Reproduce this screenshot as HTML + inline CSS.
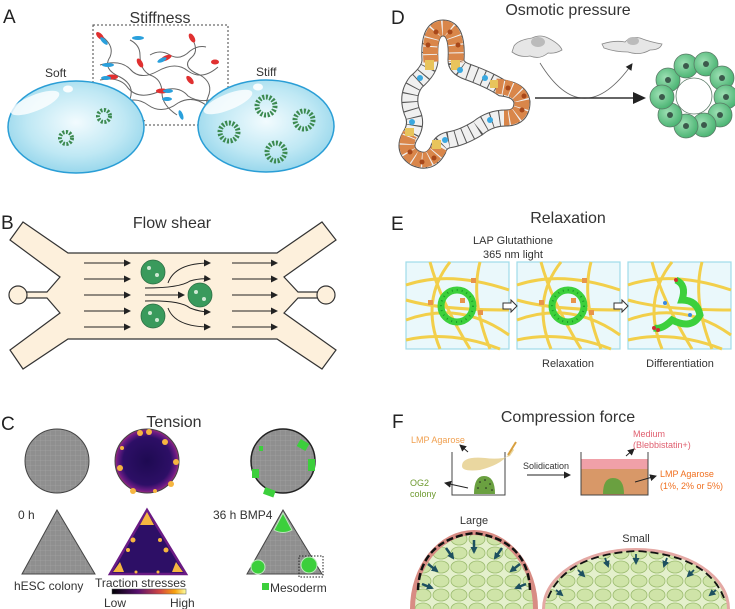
<!DOCTYPE html>
<html><head><meta charset="utf-8"><style>
html,body{margin:0;padding:0;background:#fff;width:735px;height:609px;overflow:hidden}
svg{display:block;font-family:"Liberation Sans",Arial,sans-serif}
</style></head><body>
<svg width="735" height="609" viewBox="0 0 735 609" xmlns="http://www.w3.org/2000/svg">
<defs>
<radialGradient id="gel" cx="0.5" cy="0.45" r="0.6">
<stop offset="0" stop-color="#f2fbfe"/><stop offset="0.6" stop-color="#bfe8f4"/><stop offset="1" stop-color="#8fd3ea"/></radialGradient>
<radialGradient id="heat" cx="0.5" cy="0.5" r="0.5">
<stop offset="0" stop-color="#1e0a52"/><stop offset="0.75" stop-color="#2d0f66"/><stop offset="0.92" stop-color="#6a1b84"/><stop offset="1" stop-color="#9a2b7a"/></radialGradient>
<radialGradient id="gc" cx="0.4" cy="0.4" r="0.7"><stop offset="0" stop-color="#9ee0b4"/><stop offset="1" stop-color="#3fae6a"/></radialGradient>
<linearGradient id="cbar" x1="0" x2="1"><stop offset="0" stop-color="#000004"/><stop offset="0.35" stop-color="#57106e"/><stop offset="0.65" stop-color="#d44842"/><stop offset="0.85" stop-color="#f8a20f"/><stop offset="1" stop-color="#fcffa4"/></linearGradient>
<pattern id="grid" width="5" height="5" patternUnits="userSpaceOnUse"><rect width="5" height="5" fill="#8f8f8f"/><path d="M0 0H5M0 0V5" stroke="#a9a9a9" stroke-width="0.6"/></pattern>
<pattern id="cells" width="18" height="14" patternUnits="userSpaceOnUse"><rect width="18" height="14" fill="#e4f0cc"/><ellipse cx="9" cy="7" rx="8" ry="6" fill="#cfe4a8" stroke="#9cbc70" stroke-width="0.8"/></pattern>
<marker id="ah" markerUnits="userSpaceOnUse" markerWidth="7" markerHeight="7" refX="6" refY="3.5" orient="auto"><path d="M0 0L7 3.5L0 7z" fill="#222"/></marker>
<marker id="ahb" markerUnits="userSpaceOnUse" markerWidth="7" markerHeight="7" refX="5" refY="3.5" orient="auto"><path d="M0 0L7 3.5L0 7z" fill="#1d5060"/></marker>
</defs>

<!-- Panel A -->
<text x="3" y="23" font-size="19" fill="#222">A</text>
<text x="160" y="23" font-size="16" fill="#333" text-anchor="middle">Stiffness</text>
<rect x="93" y="25" width="135" height="100" fill="none" stroke="#444" stroke-dasharray="2,2" stroke-width="1"/>
<g fill="none" stroke="#666" stroke-width="1">
<path d="M100 35 q15 10 10 22 q-8 12 10 20 q15 8 10 22 q-5 12 15 22"/>
<path d="M130 40 q10 5 10 15 q0 15 10 20 q12 4 12 18 q0 12 15 22"/>
<path d="M190 35 q10 15 2 22 q-12 10 8 18 q14 8 8 22 q-6 12 16 24"/>
<path d="M100 65 q20 -6 30 4 q10 12 28 2 q18 -10 30 0 q14 10 30 -4"/>
<path d="M100 80 q20 -4 28 8 q10 12 30 4 q20 -8 30 4 q12 8 30 2"/>
<path d="M120 105 q14 -10 28 0 q14 10 30 -2 q14 -8 28 2"/>
<path d="M150 55 q10 -6 20 0 q10 6 20 -4 q8 -6 16 -4"/>
</g>
<g>
<ellipse cx="100" cy="36" rx="5" ry="2.5" fill="#e03030" transform="rotate(45 100 36)"/><ellipse cx="104" cy="41" rx="5" ry="2" fill="#2aa0dc" transform="rotate(45 104 41)"/>
<ellipse cx="138" cy="38" rx="6" ry="2" fill="#2aa0dc"/>
<ellipse cx="192" cy="38" rx="5" ry="2.5" fill="#e03030" transform="rotate(60 192 38)"/>
<ellipse cx="108" cy="65" rx="6" ry="2" fill="#2aa0dc"/>
<ellipse cx="140" cy="63" rx="5" ry="2.5" fill="#e03030" transform="rotate(60 140 63)"/>
<ellipse cx="166" cy="58" rx="6" ry="2.5" fill="#e03030" transform="rotate(-25 166 58)"/><ellipse cx="162" cy="60" rx="5" ry="2" fill="#2aa0dc" transform="rotate(-25 162 60)"/>
<ellipse cx="112" cy="77" rx="6" ry="2.5" fill="#e03030"/><ellipse cx="106" cy="78" rx="5" ry="2" fill="#2aa0dc"/>
<ellipse cx="190" cy="80" rx="5" ry="2.5" fill="#e03030" transform="rotate(50 190 80)"/>
<ellipse cx="162" cy="91" rx="6" ry="2.5" fill="#e03030"/><ellipse cx="168" cy="91" rx="5" ry="2" fill="#2aa0dc"/>
<ellipse cx="167" cy="99" rx="5" ry="2" fill="#2aa0dc"/>
<ellipse cx="181" cy="115" rx="5" ry="2" fill="#2aa0dc" transform="rotate(70 181 115)"/>
<ellipse cx="215" cy="62" rx="4" ry="2.5" fill="#e03030"/>
</g>
<ellipse cx="76" cy="127" rx="68" ry="46" fill="url(#gel)" stroke="#2a9ed6" stroke-width="1.5"/>
<ellipse cx="35" cy="103" rx="26" ry="8" fill="#fff" opacity="0.8" transform="rotate(-22 35 103)"/>
<ellipse cx="68" cy="89" rx="5" ry="3.5" fill="#fff" opacity="0.9"/>
<ellipse cx="266" cy="126" rx="68" ry="46" fill="url(#gel)" stroke="#2a9ed6" stroke-width="1.5"/>
<ellipse cx="228" cy="102" rx="26" ry="8" fill="#fff" opacity="0.8" transform="rotate(-22 228 102)"/>
<ellipse cx="258" cy="87" rx="5" ry="3.5" fill="#fff" opacity="0.9"/>
<g fill="none" stroke="#3c8a50" stroke-dasharray="2,1.5">
<circle cx="104" cy="116" r="6" stroke-width="4"/><circle cx="66" cy="138" r="6" stroke-width="4"/>
<circle cx="266" cy="106" r="9" stroke-width="5"/><circle cx="304" cy="120" r="9" stroke-width="5"/>
<circle cx="229" cy="132" r="9" stroke-width="5"/><circle cx="276" cy="152" r="9" stroke-width="5"/>
</g>
<text x="45" y="77" font-size="12" fill="#333">Soft</text>
<text x="256" y="76" font-size="12" fill="#333">Stiff</text>

<!-- Panel B -->
<text x="1" y="229" font-size="19" fill="#222">B</text>
<text x="172" y="228" font-size="16" fill="#333" text-anchor="middle">Flow shear</text>
<path d="M23 222 L68 253 L277 253 L322 222 L336 240 L284 277 L298 292 L318 292 L318 298 L298 298 L284 313 L336 350 L322 369 L277 339 L68 339 L23 369 L10 350 L60 313 L47 298 L26 298 L26 292 L47 292 L60 277 L10 240 Z" fill="#fdf0dc" stroke="#333" stroke-width="1.2"/>
<circle cx="18" cy="295" r="9" fill="#fdf0dc" stroke="#333" stroke-width="1.2"/>
<circle cx="326" cy="295" r="9" fill="#fdf0dc" stroke="#333" stroke-width="1.2"/>
<g stroke="#222" stroke-width="1" fill="none" marker-end="url(#ah)">
<path d="M84 263H130"/><path d="M84 279H130"/><path d="M84 295H130"/><path d="M84 311H130"/><path d="M84 327H130"/>
<path d="M232 263H277"/><path d="M232 279H277"/><path d="M232 295H277"/><path d="M232 311H277"/><path d="M232 327H277"/>
<path d="M168 283 Q175 263 210 263"/><path d="M145 288 Q180 288 190 281 Q200 278 210 279"/>
<path d="M145 295H184"/><path d="M145 301 Q180 300 190 308 Q200 312 210 312"/><path d="M168 308 Q175 327 210 327"/>
</g>
<g fill="#3a9a5c" stroke="#2d6e44" stroke-width="0.8">
<circle cx="153" cy="272" r="12"/><circle cx="200" cy="295" r="12"/><circle cx="153" cy="316" r="12"/>
</g>
<g fill="#cfe8d3"><circle cx="149" cy="268" r="2"/><circle cx="157" cy="275" r="2"/><circle cx="196" cy="292" r="2"/><circle cx="204" cy="299" r="2"/><circle cx="150" cy="313" r="2"/><circle cx="157" cy="320" r="2"/></g>

<!-- Panel C -->
<text x="1" y="430" font-size="19" fill="#222">C</text>
<text x="174" y="427" font-size="16" fill="#333" text-anchor="middle">Tension</text>
<circle cx="57" cy="461" r="32" fill="url(#grid)" stroke="#444" stroke-width="1"/>
<circle cx="147" cy="461" r="32" fill="url(#heat)" stroke="#444" stroke-width="1"/>
<g fill="#f6b640">
<circle cx="140" cy="433" r="3"/><circle cx="149" cy="432" r="3"/><circle cx="165" cy="442" r="3"/><circle cx="176" cy="462" r="3"/><circle cx="171" cy="484" r="3"/><circle cx="155" cy="491" r="2"/><circle cx="133" cy="491" r="3"/><circle cx="120" cy="468" r="3"/><circle cx="122" cy="448" r="2"/></g>
<circle cx="283" cy="461" r="32" fill="url(#grid)" stroke="#222" stroke-width="1.5"/>
<g fill="#3ccf3c"><rect x="298" y="441" width="10" height="8" transform="rotate(30 303 445)"/><rect x="308" y="459" width="7" height="12"/><rect x="252" y="469" width="7" height="9"/><rect x="264" y="489" width="11" height="7" transform="rotate(20 270 492)"/><rect x="259" y="446" width="4" height="5"/></g>
<path d="M57 510 L22 574 L95 574Z" fill="url(#grid)" stroke="#444"/>
<path d="M147 510 L110 574 L186 574Z" fill="#2d0f66" stroke="#6a1b84" stroke-width="2.5"/>
<g fill="#f6b640"><path d="M147 512 L140 525 L154 525Z"/><path d="M113 572 L120 562 L124 572Z"/><path d="M183 572 L176 562 L172 572Z"/><circle cx="133" cy="540" r="2.5"/><circle cx="128" cy="550" r="2"/><circle cx="166" cy="550" r="2.5"/><circle cx="160" cy="540" r="2"/><circle cx="136" cy="572" r="1.5"/><circle cx="158" cy="572" r="1.5"/></g>
<path d="M283 510 L247 574 L322 574Z" fill="url(#grid)" stroke="#444"/>
<g fill="#3ccf3c" stroke="#bfe8bf" stroke-width="1"><path d="M283 513 L274 530 Q283 535 292 530Z"/><circle cx="258" cy="567" r="7"/><circle cx="309" cy="565" r="8"/></g>
<rect x="299" y="556" width="24" height="21" fill="none" stroke="#222" stroke-dasharray="1.5,1.5"/>
<text x="18" y="519" font-size="12" fill="#333">0 h</text>
<text x="14" y="590" font-size="12" fill="#333">hESC colony</text>
<text x="95" y="587" font-size="12" fill="#333">Traction stresses</text>
<rect x="112" y="589" width="74" height="5" fill="url(#cbar)" stroke="#555" stroke-width="0.5"/>
<text x="104" y="607" font-size="12" fill="#333">Low</text>
<text x="170" y="607" font-size="12" fill="#333">High</text>
<text x="213" y="519" font-size="12" fill="#333">36 h BMP4</text>
<rect x="262" y="583" width="7" height="7" fill="#3ccf3c"/>
<text x="270" y="592" font-size="12" fill="#333">Mesoderm</text>

<!-- Panel D -->
<text x="391" y="24" font-size="19" fill="#222">D</text>
<text x="568" y="15" font-size="16" fill="#333" text-anchor="middle">Osmotic pressure</text>
<path d="M430 60 Q428 28 443 28 Q458 28 456 60 Q456 68 468 72 Q490 80 502 88 Q520 90 522 102 Q522 118 506 118 Q490 118 478 128 Q462 138 448 140 Q440 142 438 150 Q430 165 415 158 Q402 150 410 136 Q418 124 412 112 Q406 95 416 82 Q430 70 430 60Z" fill="none" stroke="#555" stroke-width="17"/>
<path d="M430 60 Q428 28 443 28 Q458 28 456 60 Q456 68 468 72 Q490 80 502 88 Q520 90 522 102 Q522 118 506 118 Q490 118 478 128 Q462 138 448 140 Q440 142 438 150 Q430 165 415 158 Q402 150 410 136 Q418 124 412 112 Q406 95 416 82 Q430 70 430 60Z" fill="none" stroke="#f0f0f0" stroke-width="15" stroke-dasharray="7,1"/>
<path d="M431 62 Q428 28 443 28 Q458 28 456 62" fill="none" stroke="#d9864a" stroke-width="15" stroke-dasharray="7,1"/>
<path d="M496 86 Q520 88 522 102 Q522 118 504 118" fill="none" stroke="#d9864a" stroke-width="15" stroke-dasharray="7,1"/>
<path d="M440 147 Q430 165 415 158 Q402 150 410 134" fill="none" stroke="#d9864a" stroke-width="15" stroke-dasharray="7,1"/>
<g fill="#a8481a"><circle cx="436" cy="32" r="2.5"/><circle cx="450" cy="32" r="2.5"/><circle cx="428" cy="45" r="2.5"/><circle cx="458" cy="45" r="2.5"/><circle cx="524" cy="96" r="2.5"/><circle cx="522" cy="110" r="2.5"/><circle cx="508" cy="88" r="2.5"/><circle cx="410" cy="152" r="2.5"/><circle cx="422" cy="162" r="2.5"/><circle cx="434" cy="158" r="2.5"/></g>
<g fill="#e8c45c"><rect x="425" y="60" width="9" height="10"/><rect x="451" y="60" width="9" height="10"/><rect x="490" y="80" width="8" height="8"/><rect x="432" y="140" width="9" height="9"/><rect x="405" y="128" width="9" height="8"/></g>
<g fill="#3aa8e0"><circle cx="460" cy="70" r="3"/><circle cx="420" cy="78" r="3"/><circle cx="485" cy="78" r="3"/><circle cx="490" cy="120" r="3"/><circle cx="445" cy="140" r="3"/><circle cx="412" cy="122" r="3"/></g>
<path d="M514 46 Q518 40 532 38 Q540 34 548 38 Q560 44 562 50 Q555 54 548 53 Q540 60 530 56 Q520 58 512 52 Z" fill="#e6e6e6" stroke="#888" stroke-width="0.8"/>
<ellipse cx="538" cy="42" rx="7" ry="5" fill="#bbb"/>
<path d="M602 44 Q615 40 625 42 Q630 36 640 38 Q650 42 662 44 Q660 50 650 50 Q640 56 628 52 Q615 52 604 48Z" fill="#e6e6e6" stroke="#888" stroke-width="0.8"/>
<ellipse cx="633" cy="41" rx="6" ry="4" fill="#bbb"/>
<path d="M540 63 Q583 133 632 64" fill="none" stroke="#666" stroke-width="0.8" marker-end="url(#ah)"/>
<path d="M535 98 H638" stroke="#333" stroke-width="1.5"/>
<path d="M633 92 L646 98 L633 104Z" fill="#222"/>
<g stroke="#5a7a66" stroke-width="0.8" fill="url(#gc)">
<circle cx="668" cy="80" r="12"/><circle cx="686" cy="66" r="12"/><circle cx="706" cy="64" r="12"/><circle cx="722" cy="78" r="12"/><circle cx="726" cy="97" r="12"/><circle cx="720" cy="115" r="12"/><circle cx="704" cy="125" r="12"/><circle cx="686" cy="126" r="12"/><circle cx="670" cy="115" r="12"/><circle cx="662" cy="97" r="12"/>
</g>
<circle cx="694" cy="96" r="18" fill="#fff" stroke="#5a7a66" stroke-width="0.8"/>
<g fill="#3c5a4c"><circle cx="668" cy="80" r="3"/><circle cx="686" cy="66" r="3"/><circle cx="706" cy="64" r="3"/><circle cx="722" cy="78" r="3"/><circle cx="726" cy="97" r="3"/><circle cx="720" cy="115" r="3"/><circle cx="704" cy="125" r="3"/><circle cx="686" cy="126" r="3"/><circle cx="670" cy="115" r="3"/><circle cx="662" cy="97" r="3"/></g>

<!-- Panel E -->
<text x="391" y="230" font-size="19" fill="#222">E</text>
<text x="568" y="223" font-size="16" fill="#333" text-anchor="middle">Relaxation</text>
<text x="513" y="244" font-size="11" fill="#333" text-anchor="middle">LAP Glutathione</text>
<text x="513" y="258" font-size="11" fill="#333" text-anchor="middle">365 nm light</text>
<g id="box">
<rect x="406" y="262" width="103" height="87" fill="#eaf8fb" stroke="#9fdbe8" stroke-width="1.2"/>
<g fill="none" stroke="#f2cf4a" stroke-width="3">
<path d="M406 285 Q450 270 509 290"/><path d="M406 320 Q460 300 509 335"/><path d="M430 262 Q440 300 470 349"/><path d="M480 262 Q470 300 490 349"/><path d="M406 340 Q450 330 500 349"/><path d="M450 262 Q420 300 440 349"/><path d="M406 300 Q440 310 509 310"/>
</g>
<g fill="#e8944a"><rect x="428" y="300" width="5" height="5"/><rect x="460" y="298" width="5" height="5"/><rect x="478" y="310" width="5" height="5"/><rect x="471" y="278" width="5" height="5"/></g>
<circle cx="457" cy="306" r="16" fill="none" stroke="#3cd03c" stroke-width="7"/>
<circle cx="457" cy="306" r="16" fill="none" stroke="#1a9a2a" stroke-width="2" stroke-dasharray="1,4"/>
</g>
<use href="#box" x="111"/>
<g transform="translate(222,0)">
<rect x="406" y="262" width="103" height="87" fill="#eaf8fb" stroke="#9fdbe8" stroke-width="1.2"/>
<g fill="none" stroke="#f2cf4a" stroke-width="3">
<path d="M406 285 Q450 270 509 290"/><path d="M406 320 Q460 300 509 335"/><path d="M430 262 Q440 300 470 349"/><path d="M480 262 Q470 300 490 349"/><path d="M406 340 Q450 330 500 349"/><path d="M450 262 Q420 300 440 349"/><path d="M406 300 Q440 310 509 310"/>
</g>
<path d="M454 280 Q465 285 460 300 Q475 300 478 315 Q470 330 450 320 Q440 330 432 328" fill="none" stroke="#3cd03c" stroke-width="7"/>
<g fill="#d03030"><circle cx="454" cy="280" r="2"/><circle cx="432" cy="328" r="2"/><circle cx="436" cy="330" r="2"/></g>
<g fill="#3a88e0"><circle cx="468" cy="315" r="2"/><circle cx="443" cy="303" r="2"/></g>
</g>
<g fill="#fff" stroke="#333" stroke-width="1"><path d="M503 303 H511 V300 L517 306 L511 312 V309 H503Z"/><path d="M614 303 H622 V300 L628 306 L622 312 V309 H614Z"/></g>
<text x="568" y="367" font-size="11" fill="#333" text-anchor="middle">Relaxation</text>
<text x="680" y="367" font-size="11" fill="#333" text-anchor="middle">Differentiation</text>

<!-- Panel F -->
<text x="392" y="428" font-size="19" fill="#222">F</text>
<text x="568" y="422" font-size="16" fill="#333" text-anchor="middle">Compression force</text>
<text x="411" y="443" font-size="9" fill="#f0a050">LMP Agarose</text>
<path d="M468 452 L460 445" stroke="#222" marker-end="url(#ah)"/>
<path d="M452 452 V495 H505 V452" fill="none" stroke="#444"/>
<path d="M462 466 Q462 456 485 458 Q500 460 510 456 L514 450 L512 448 L508 455 Q500 465 480 470 Q462 472 462 466Z" fill="#ead7a0"/>
<path d="M508 455 L516 442" stroke="#d8a040" stroke-width="2"/>
<path d="M474 494 Q474 476 484 476 Q495 476 495 494Z" fill="#6aa040"/>
<g fill="#222"><circle cx="480" cy="482" r="0.8"/><circle cx="485" cy="480" r="0.8"/><circle cx="490" cy="484" r="0.8"/><circle cx="478" cy="488" r="0.8"/><circle cx="486" cy="488" r="0.8"/><circle cx="492" cy="490" r="0.8"/></g>
<text x="410" y="486" font-size="9" fill="#6e9a30">OG2</text>
<text x="410" y="497" font-size="9" fill="#6e9a30">colony</text>
<path d="M468 488 L445 483" stroke="#222" marker-end="url(#ah)"/>
<text x="523" y="469" font-size="9" fill="#333">Solidication</text>
<path d="M527 475 H570" stroke="#222" marker-end="url(#ah)"/>
<rect x="581" y="459" width="67" height="10" fill="#f0a0a8"/>
<rect x="581" y="469" width="67" height="26" fill="#d89868"/>
<path d="M581 452 V495 H648 V452" fill="none" stroke="#444"/>
<path d="M603 494 Q603 478 613 478 Q624 478 624 494Z" fill="#6aa040"/>
<path d="M626 456 L634 449" stroke="#222" marker-end="url(#ah)"/>
<text x="633" y="437" font-size="9" fill="#e06070">Medium</text>
<text x="633" y="448" font-size="9" fill="#e06070">(Blebbistatin+)</text>
<path d="M635 482 L656 476" stroke="#222" marker-end="url(#ah)"/>
<text x="660" y="477" font-size="9" fill="#f07020">LMP Agarose</text>
<text x="660" y="489" font-size="9" fill="#f07020">(1%, 2% or 5%)</text>
<text x="474" y="524" font-size="11" fill="#333" text-anchor="middle">Large</text>
<text x="636" y="542" font-size="11" fill="#333" text-anchor="middle">Small</text>
<ellipse cx="474" cy="609" rx="64" ry="79" fill="#d88c84"/>
<ellipse cx="474" cy="609" rx="59" ry="74" fill="url(#cells)"/>
<path d="M418 590 Q420 540 474 533 Q528 540 530 590" fill="none" stroke="#111" stroke-width="2.5" stroke-dasharray="7,3"/>
<ellipse cx="636" cy="609" rx="94" ry="61" fill="#e4a8a4"/>
<ellipse cx="636" cy="609" rx="91" ry="58" fill="url(#cells)"/>
<path d="M548 598 Q565 555 636 551 Q707 555 724 598" fill="none" stroke="#111" stroke-width="1.8" stroke-dasharray="8,4"/>
<g stroke="#1d5060" stroke-width="2.5" marker-end="url(#ahb)">
<path d="M474 540 V552"/><path d="M446 548 L453 558"/><path d="M502 548 L495 558"/><path d="M428 564 L437 571"/><path d="M520 564 L511 571"/><path d="M422 584 L432 588"/><path d="M526 584 L516 588"/>
<path d="M636 554 V563" stroke-width="1.8"/><path d="M605 558 L608 566" stroke-width="1.8"/><path d="M667 558 L664 566" stroke-width="1.8"/><path d="M578 570 L584 576" stroke-width="1.8"/><path d="M694 570 L688 576" stroke-width="1.8"/><path d="M556 590 L562 595" stroke-width="1.8"/><path d="M716 590 L710 595" stroke-width="1.8"/>
</g>
</svg>
</body></html>
